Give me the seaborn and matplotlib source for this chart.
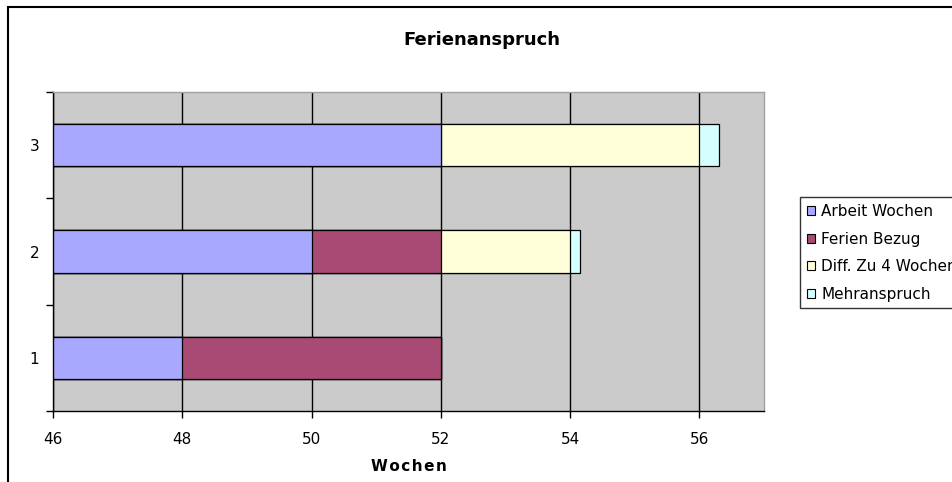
import pandas as pd
import matplotlib
matplotlib.use("Agg")
import matplotlib.pyplot as plt
from matplotlib.patches import Patch, Rectangle
import seaborn as sns

# values (weeks)
categories = ["1", "2", "3"]
arbeit_wochen = [48, 50, 52]
ferien_bezug = [4, 2, 0]
diff_4_wochen = [0, 2, 4]
mehranspruch = [0, 0.15, 0.31]

series_names = ["Arbeit Wochen", "Ferien Bezug", "Diff. Zu 4 Wochen", "Mehranspruch"]
colors = ["#A8A8FF", "#A84A74", "#FFFFDA", "#D4FFFF"]

df = pd.DataFrame({
    "kategorie": categories,
    "Arbeit Wochen": arbeit_wochen,
    "Ferien Bezug": ferien_bezug,
    "Diff. Zu 4 Wochen": diff_4_wochen,
    "Mehranspruch": mehranspruch,
})
# cumulative sums so the bars can be overlaid as a stack
cum = df[series_names].cumsum(axis=1)
cum["kategorie"] = df["kategorie"]

sns.set_style("white")
plt.rcParams["font.family"] = ["DejaVu Sans"]
plt.rcParams["text.color"] = "black"
plt.rcParams["xtick.color"] = "black"
plt.rcParams["ytick.color"] = "black"
plt.rcParams["axes.labelcolor"] = "black"

fig = plt.figure(figsize=(9.52, 4.82), dpi=100)
ax = fig.add_axes([0.0557, 0.1473, 0.7468, 0.6618])
ax.set_facecolor("#CBCBCB")

order = ["3", "2", "1"]
for name, col in reversed(list(zip(series_names, colors))):
    sns.barplot(data=cum, x=name, y="kategorie", order=order, color=col,
                saturation=1, width=0.4, edgecolor="black", linewidth=0.9, ax=ax)

ax.set_xlim(46, 57)
ax.set_ylim(2.5, -0.5)
ax.set_xticks([46, 48, 50, 52, 54, 56])
ax.grid(axis="x", color="black", linewidth=1)
ax.grid(axis="y", visible=False)
ax.set_axisbelow(True)

ax.set_yticks([0, 1, 2])
ax.set_yticklabels(order)
ax.set_yticks([-0.5, 0.5, 1.5, 2.5], minor=True)
ax.tick_params(axis="y", which="major", length=0, pad=10, labelsize=11)
ax.tick_params(axis="y", which="minor", length=5, width=1, direction="out", color="black", left=True)
ax.tick_params(axis="x", which="major", length=5, width=1, direction="out", color="black",
               bottom=True, labelsize=11, pad=10)

for side in ["left", "bottom"]:
    ax.spines[side].set_color("black")
    ax.spines[side].set_linewidth(1)
for side in ["top", "right"]:
    ax.spines[side].set_visible(True)
    ax.spines[side].set_color("#A0A0A0")
    ax.spines[side].set_linewidth(1)

ax.set_ylabel("")
ax.set_xlabel("\u200a".join("Wochen"), fontsize=11, fontweight="bold", labelpad=9)

fig.text(0.506, 0.917, "Ferienanspruch", ha="center", va="center",
         fontsize=13, fontweight="bold")

handles = [Patch(facecolor=c, edgecolor="black", linewidth=0.8) for c in colors]
fig.legend(handles, series_names, loc="upper left", bbox_to_anchor=(0.840, 0.591),
           fontsize=11, frameon=True, fancybox=False, edgecolor="black",
           handlelength=0.55, handleheight=0.55, handletextpad=0.4,
           labelspacing=0.82, borderpad=0.45, borderaxespad=0)

# outer chart border (cut off at right and bottom like the source)
fig.patches.append(Rectangle((0.0084, -0.2), 1.5, 1.1855, transform=fig.transFigure,
                             fill=False, edgecolor="black", linewidth=1.5))

fig.savefig("out.png", dpi=100)
